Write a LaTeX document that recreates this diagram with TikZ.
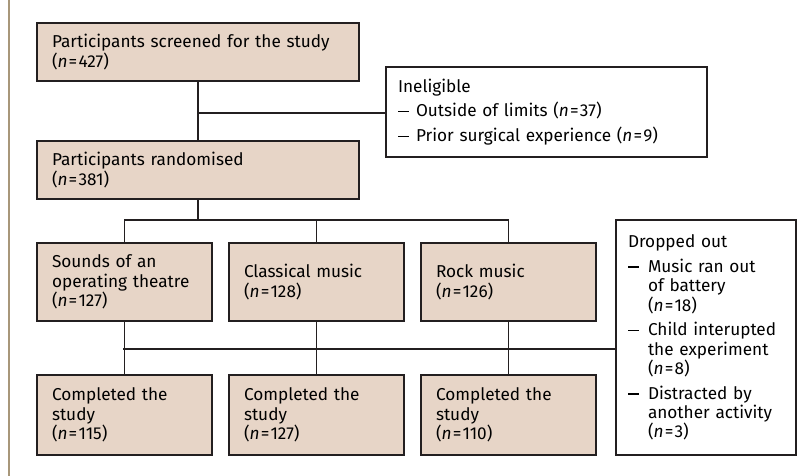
\documentclass[tikz,border=0pt]{standalone}
\usepackage{fontspec}
\setmainfont{Fira Sans}
\newcommand{\nn}[1]{(\textit{n}\kern1.2pt=\kern1.2pt#1)}
\newcommand{\dashitem}[1]{\makebox[#1][l]{\rule[0.26em]{11pt}{1.6pt}}}
\begin{document}
\begin{tikzpicture}[x=1pt,y=-1pt,
  font=\fontsize{17.2pt}{19.3pt}\selectfont,
  boxa/.style={draw=linec, line width=1.8pt, fill=boxfill, anchor=north west,
    align=left, outer sep=0pt, inner xsep=15pt, inner ysep=0pt},
  boxb/.style={boxa, fill=white, inner xsep=12pt},
  conn/.style={draw=linec, line width=1.4pt}]
\definecolor{linec}{HTML}{231F20}
\definecolor{boxfill}{HTML}{E7D5C7}
\definecolor{gold}{HTML}{A8977A}
\useasboundingbox (0,0) rectangle (808,476);
\fill[white] (0,0) rectangle (808,476);
\draw[gold, line width=2.4pt] (9,0) -- (9,476);
% top boxes
\node[boxa, minimum width=322, minimum height=58, text width=292] (scr) at (37,23)
  {Participants screened for the study\\\nn{427}};
\node[boxa, minimum width=322, minimum height=58, text width=292] (rnd) at (37,141)
  {Participants randomised\\\nn{381}};
\node[boxb, minimum width=321, minimum height=90, text width=297] (inel) at (386,67)
  {Ineligible\\[5.5pt]
   \dashitem{18pt}Outside of limits \nn{37}\\[5.5pt]
   \dashitem{18pt}Prior surgical experience \nn{9}};
% arms
\node[boxa, minimum width=172, minimum height=78, text width=145] (a) at (37,243)
  {Sounds of an\\operating theatre\\\nn{127}};
\node[boxa, minimum width=172, minimum height=78, text width=145] (b) at (229,243)
  {Classical music\\\nn{128}};
\node[boxa, minimum width=172, minimum height=78, text width=145] (c) at (421,243)
  {Rock music\\\nn{126}};
% completed
\node[boxa, minimum width=172, minimum height=80, text width=145] (a4) at (37,375)
  {Completed the\\study\\\nn{115}};
\node[boxa, minimum width=172, minimum height=80, text width=145] (b4) at (229,375)
  {Completed the\\study\\\nn{127}};
\node[boxa, minimum width=172, minimum height=80, text width=145] (c4) at (421,375)
  {Completed the\\study\\\nn{110}};
% dropped out
\node[boxb, minimum width=171, minimum height=235, text width=156] (drop) at (616,220)
  {Dropped out\\[5.5pt]
   \dashitem{20pt}Music ran out\\
   \hspace*{20pt}of battery\\
   \hspace*{20pt}\nn{18}\\[5.5pt]
   \dashitem{20pt}Child interupted\\
   \hspace*{20pt}the experiment\\
   \hspace*{20pt}\nn{8}\\[5.5pt]
   \dashitem{20pt}Distracted by\\
   \hspace*{20pt}another activity\\
   \hspace*{20pt}\nn{3}};
% connectors
\coordinate (j1) at (198,113);
\coordinate (j2) at (198,220);
\coordinate (j3) at (123,349);
\draw[conn] (scr.south) -- (rnd.north);
\draw[conn] (j1) -- (j1 -| inel.west);
\draw[conn] (rnd.south) -- (j2);
\draw[conn] (a.north) |- (j2) -| (c.north);
\draw[conn] (b.north) -- (b.north |- j2);
\draw[conn] (a.south) -- (a4.north);
\draw[conn] (b.south) -- (b4.north);
\draw[conn] (c.south) -- (c4.north);
\draw[conn] (j3) -- (j3 -| drop.west);
\end{tikzpicture}
\end{document}
